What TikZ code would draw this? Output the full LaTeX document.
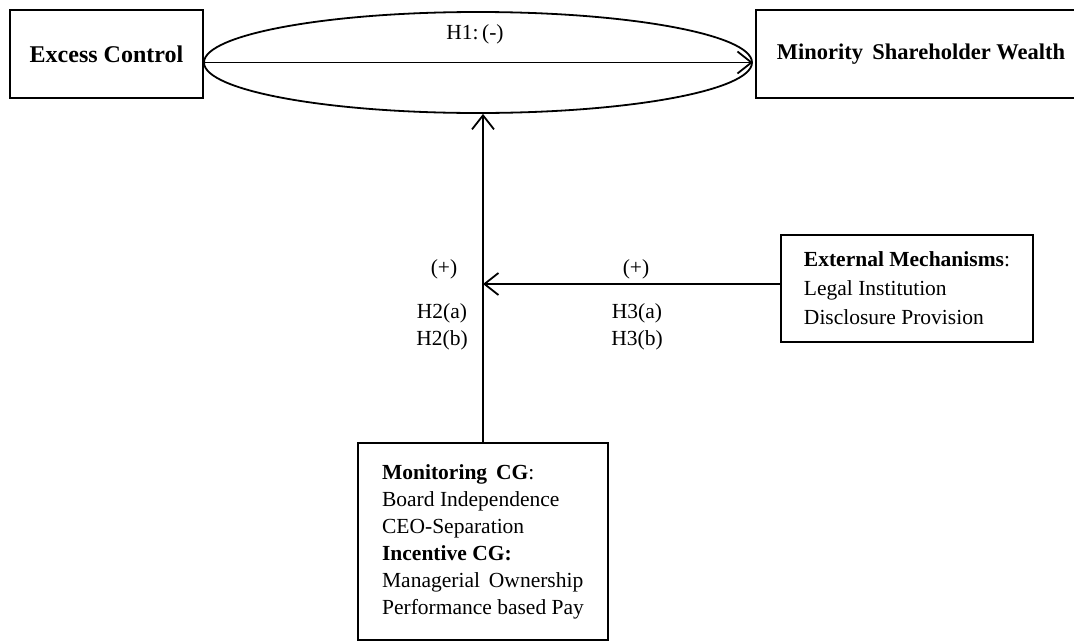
\documentclass[tikz,border=0pt]{standalone}
\usepackage{fontspec}
\setmainfont{Liberation Serif}
\usetikzlibrary{arrows.meta,shapes.geometric}
\begin{document}
\begin{tikzpicture}[x=1pt,y=-1pt,
  box/.style={draw,line width=2pt,rectangle,inner sep=0pt,align=left},
  title/.style={font=\fontsize{24}{27}\selectfont\bfseries},
  body/.style={font=\fontsize{21.5}{27}\selectfont},
  lab/.style={font=\fontsize{21.5}{27}\selectfont,anchor=base,inner sep=0pt},
  conn/.style={line width=1.8pt,-{Straight Barb[length=14pt,width=22pt,line width=1.8pt]}}]
\useasboundingbox (0,0) rectangle (1074,643);
\node[box,title,minimum width=193pt,minimum height=88pt] (ec) at (106.5,54) {Excess Control};
\node[box,title,font=\fontsize{22.5}{27}\selectfont\bfseries,minimum width=330pt,minimum height=88pt] (msw) at (921,54) {Minority\, Shareholder Wealth};
\node[draw,line width=1.8pt,ellipse,minimum width=548pt,minimum height=101pt,inner sep=0pt] (ell) at (478,62.5) {};
\node[box,font=\fontsize{21.5}{29}\selectfont,minimum width=252pt,minimum height=107pt] (ext) at (907,288.5)
  {\textbf{External Mechanisms}:\\Legal Institution\\Disclosure Provision};
\node[box,body,minimum width=250pt,minimum height=197pt] (mon) at (483,541.5)
  {\textbf{Monitoring\, CG}:\\Board Independence\\CEO-Separation\\\textbf{Incentive CG:}\\Managerial\, Ownership\\Performance based Pay};
\coordinate (j) at (483,284);
\draw[conn] (ell.west) -- (ell.east);
\draw[conn] (j |- mon.north) -- (j |- ell.south);
\draw[conn] (ext.west |- j) -- (j);
\node[lab] (h1) at (475,39) {H1:\,(-)};
\node[lab] (p2) at (444,274) {(+)};
\node[lab] (h2a) at (442,318) {H2(a)};
\node[lab] (h2b) at (442,345) {H2(b)};
\node[lab] (p3) at (636,274) {(+)};
\node[lab] (h3a) at (637,318) {H3(a)};
\node[lab] (h3b) at (637,345) {H3(b)};
\end{tikzpicture}
\end{document}
